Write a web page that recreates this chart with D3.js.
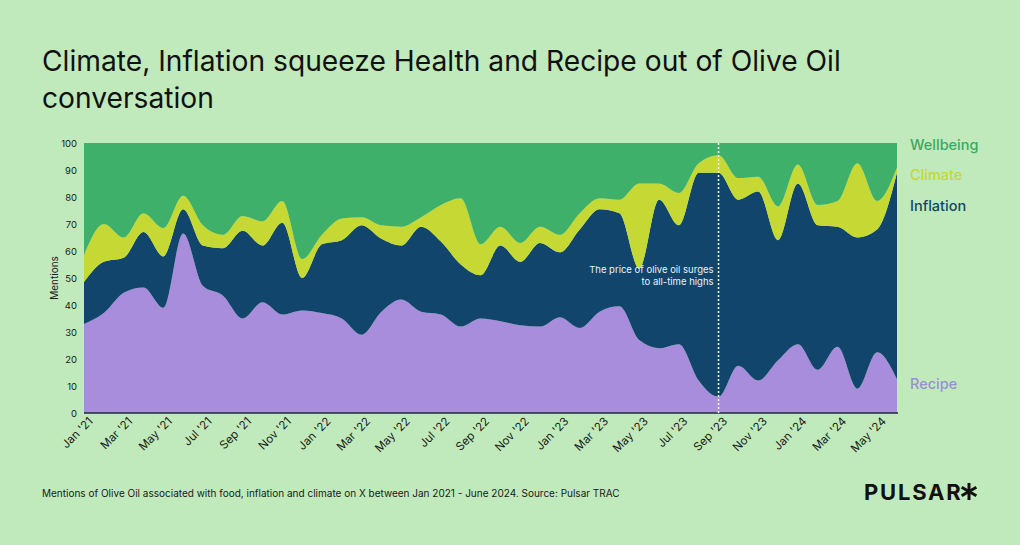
<!DOCTYPE html>
<html>
<head>
<meta charset="utf-8">
<script src="https://cdn.jsdelivr.net/npm/d3@7"></script>
<style>
  html, body { margin: 0; padding: 0; background: #c0eabb; }
  svg { display: block; }
  text { font-family: Inter, "Open Sans", sans-serif; }
</style>
</head>
<body>
<svg id="chart" width="1020" height="545"></svg>
<script>
// ---------- DATA ----------
const months = [
  "Jan '21","Feb '21","Mar '21","Apr '21","May '21","Jun '21","Jul '21","Aug '21","Sep '21","Oct '21","Nov '21","Dec '21",
  "Jan '22","Feb '22","Mar '22","Apr '22","May '22","Jun '22","Jul '22","Aug '22","Sep '22","Oct '22","Nov '22","Dec '22",
  "Jan '23","Feb '23","Mar '23","Apr '23","May '23","Jun '23","Jul '23","Aug '23","Sep '23","Oct '23","Nov '23","Dec '23",
  "Jan '24","Feb '24","Mar '24","Apr '24","May '24","Jun '24"
];
const recipe = [33, 37, 44.5, 46.5, 39, 66.5, 47, 43.5, 35, 41, 36.5, 38,
  37, 35, 29, 37.5, 42, 37.5, 36.5, 32, 35, 34, 32.5, 32,
  35.5, 31.5, 37.5, 39.5, 27, 24, 25.5, 12, 6, 17.5, 12, 19.5,
  25.5, 16, 24.5, 9, 22.5, 12.5];
const inflation = [15.5, 19, 13, 20.5, 19, 9, 15, 17.5, 32.5, 21, 34, 12,
  25.5, 29, 40.5, 27, 20, 31.5, 27, 23, 16, 28, 23.5, 31,
  24, 36.5, 38, 34.5, 26.5, 55, 44, 77, 83, 61.5, 70, 44.5,
  59.5, 53.5, 44.5, 56, 45.5, 76.5];
const climate = [10, 14, 7.5, 7, 10.5, 5, 7.5, 5, 5.5, 9, 8, 7,
  3.5, 8, 3, 5, 7, 3.5, 13.5, 24.5, 11.5, 7, 7, 6,
  6.5, 6, 4, 5, 31.5, 6, 12, 3.5, 6.5, 8, 5.5, 12.5,
  7, 7.5, 9.5, 27.5, 10.5, 2];
const wellbeing = [41.5, 30, 35, 26, 31.5, 19.5, 30.5, 34, 27, 29, 21.5, 43,
  34, 28, 27.5, 30.5, 31, 27.5, 23, 20.5, 37.5, 31, 37, 31,
  34, 26, 20.5, 21, 15, 15, 18.5, 7.5, 4.5, 13, 12.5, 23.5,
  8, 23, 21.5, 7.5, 21.5, 9];
const seriesNames = ["Recipe", "Inflation", "Climate", "Wellbeing"];
const seriesColors = ["#a78ddc", "#12456b", "#c5d834", "#3fb06a"];
const legendColors = ["#9a8fd3", "#12456b", "#c5d834", "#3aa866"];
const yTicks = [0, 10, 20, 30, 40, 50, 60, 70, 80, 90, 100];
const annotationMonth = "Sep '23";
const annotationLines = ["The price of olive oil surges", "to all-time highs"];

// ---------- BUILD ----------
const table = months.map((m, i) => ({
  i, month: m,
  Recipe: recipe[i], Inflation: inflation[i], Climate: climate[i], Wellbeing: wellbeing[i]
}));

const svg = d3.select("#chart");
const W = 1020, H = 545;
const m = { left: 84, right: 123, top: 143, bottom: 132 };
const x = d3.scaleLinear().domain([0, months.length - 1]).range([m.left, W - m.right]);
const y = d3.scaleLinear().domain([0, 100]).range([H - m.bottom, m.top]);

svg.append("rect").attr("width", W).attr("height", H).attr("fill", "#c0eabb");

// Title
const title = svg.append("g").attr("fill", "#111");
title.append("text").attr("x", 42).attr("y", 71).attr("font-size", 28.2)
  .text("Climate, Inflation squeeze Health and Recipe out of Olive Oil");
title.append("text").attr("x", 42).attr("y", 108).attr("font-size", 28.2)
  .text("conversation");

const stack = d3.stack().keys(seriesNames);
const layers = stack(table);
const area = d3.area()
  .x(d => x(d.data.i))
  .y0(d => y(d[0]))
  .y1(d => y(Math.min(d[1], 100)))
  .curve(d3.curveMonotoneX);

svg.append("g").selectAll("path").data(layers).join("path")
  .attr("d", area)
  .attr("fill", (d, i) => seriesColors[i]);

// x axis line
svg.append("line").attr("x1", m.left).attr("x2", W - m.right + 1)
  .attr("y1", y(0)).attr("y2", y(0)).attr("stroke", "#1d2b33").attr("stroke-width", 1.5);

// x tick labels
const xTickIdx = months.map((d, i) => i).filter(i => i % 2 === 0);
const xAxis = d3.axisBottom(x).tickValues(xTickIdx).tickFormat(i => months[i]).tickSize(0);
const gx = svg.append("g").attr("transform", `translate(0,${y(0)})`).call(xAxis);
gx.select(".domain").remove();
gx.selectAll("text")
  .attr("font-family", "Inter, sans-serif")
  .attr("font-size", 11.5)
  .attr("fill", "#1a1a1a")
  .attr("text-anchor", "end")
  .attr("dy", "0.35em")
  .attr("transform", "translate(4,4) rotate(-45)");

// y axis labels
const yAxis = d3.axisLeft(y).tickValues(yTicks).tickSize(0).tickPadding(7);
const gy = svg.append("g").attr("transform", `translate(${m.left},0)`).call(yAxis);
gy.select(".domain").remove();
gy.selectAll("text").attr("font-family", "Inter, sans-serif").attr("font-size", 9.5).attr("fill", "#1a1a1a");

svg.append("text")
  .attr("transform", `translate(58,${(y(0) + y(100)) / 2}) rotate(-90)`)
  .attr("text-anchor", "middle").attr("font-size", 10).attr("fill", "#1a1a1a")
  .text("Mentions");

// annotation line
const ai = months.indexOf(annotationMonth);
svg.append("line").attr("x1", x(ai)).attr("x2", x(ai))
  .attr("y1", y(100)).attr("y2", y(0))
  .attr("stroke", "#ffffff").attr("stroke-width", 1.5).attr("stroke-dasharray", "2,2");
svg.append("g").selectAll("text").data(annotationLines).join("text")
  .attr("x", x(ai) - 5).attr("y", (d, k) => 273 + k * 11.5)
  .attr("text-anchor", "end").attr("font-size", 9.5).attr("fill", "#e6f3f5")
  .text(d => d);

// legend labels on right
const legendY = { Wellbeing: 150, Climate: 180, Inflation: 211, Recipe: 389 };
svg.append("g").selectAll("text").data(seriesNames).join("text")
  .attr("x", 910).attr("y", d => legendY[d])
  .attr("font-size", 14.5).attr("font-weight", 500)
  .attr("fill", (d, i) => legendColors[i])
  .text(d => d);

// footer
svg.append("text").attr("x", 42).attr("y", 497).attr("font-size", 10).attr("fill", "#1a1a1a")
  .text("Mentions of Olive Oil associated with food, inflation and climate on X between Jan 2021 - June 2024. Source: Pulsar TRAC");

// logo
const logo = svg.append("g");
logo.append("text").attr("x", 864).attr("y", 500).attr("font-size", 22).attr("font-weight", 700)
  .attr("letter-spacing", 1.8).attr("fill", "#111").text("PULSAR");
const ax = 969, ay = 491.5, r = 8.5;
[90, 30, 150].forEach(a => {
  const rad = a * Math.PI / 180;
  logo.append("line")
    .attr("x1", ax - r * Math.cos(rad)).attr("y1", ay - r * Math.sin(rad))
    .attr("x2", ax + r * Math.cos(rad)).attr("y2", ay + r * Math.sin(rad))
    .attr("stroke", "#111").attr("stroke-width", 3);
});
</script>
</body>
</html>
